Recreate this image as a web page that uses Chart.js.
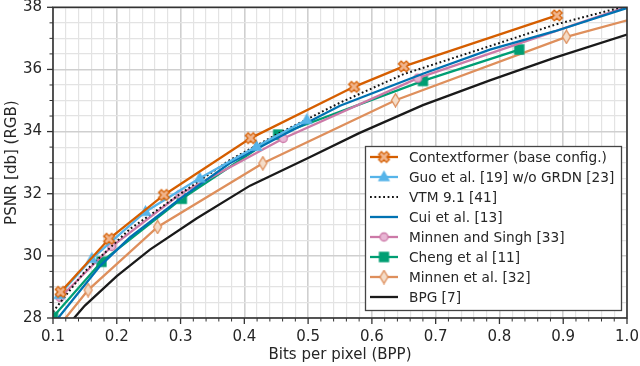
<!DOCTYPE html>
<html>
<head>
<meta charset="utf-8">
<script src="https://cdn.jsdelivr.net/npm/chart.js@4"></script>
<style>
  html, body { margin: 0; padding: 0; background: #fff; }
  #wrap { width: 640px; height: 366px; position: relative; }
</style>
</head>
<body>
<div id="wrap"><canvas id="rdChart"></canvas></div>
<script>
// rate-distortion points: bits per pixel / PSNR (dB)
const ctxformerBpp  = [0.112, 0.188, 0.274, 0.410, 0.572, 0.650, 0.890];
const ctxformerPsnr = [28.84, 30.55, 31.96, 33.79, 35.44, 36.10, 37.74];

const guoBpp  = [0.110, 0.161, 0.245, 0.330, 0.419, 0.498];
const guoPsnr = [28.75, 29.91, 31.42, 32.50, 33.52, 34.38];

const vtmBpp  = [0.100, 0.106, 0.150, 0.221, 0.300, 0.377, 0.450, 0.550, 0.650, 0.785, 0.887, 1.000];
const vtmPsnr = [28.20, 28.36, 29.50, 30.87, 32.00, 33.08, 33.90, 34.93, 35.85, 36.75, 37.44, 38.05];

const cuiBpp  = [0.100, 0.108, 0.174, 0.221, 0.300, 0.377, 0.450, 0.550, 0.680, 0.785, 0.887, 1.000];
const cuiPsnr = [27.80, 28.00, 29.68, 30.60, 31.85, 32.98, 33.78, 34.83, 35.86, 36.64, 37.23, 37.98];

const minnenSinghBpp  = [0.111, 0.192, 0.299, 0.461, 0.672, 1.050];
const minnenSinghPsnr = [28.66, 30.30, 31.98, 33.78, 35.72, 38.37];

const chengBpp  = [0.100, 0.176, 0.302, 0.453, 0.680, 0.831];
const chengPsnr = [28.03, 29.81, 31.84, 33.90, 35.63, 36.64];

const minnenBpp  = [0.100, 0.155, 0.264, 0.429, 0.637, 0.905, 1.100];
const minnenPsnr = [27.50, 28.90, 30.93, 32.98, 35.01, 37.05, 38.14];

const bpgBpp  = [0.100, 0.131, 0.150, 0.200, 0.252, 0.325, 0.409, 0.500, 0.580, 0.680, 0.785, 0.887, 1.000];
const bpgPsnr = [27.25, 27.95, 28.40, 29.35, 30.20, 31.20, 32.26, 33.15, 33.95, 34.85, 35.65, 36.38, 37.12];

const xTicks = [0.1, 0.2, 0.3, 0.4, 0.5, 0.6, 0.7, 0.8, 0.9, 1.0];
const yTicks = [28, 30, 32, 34, 36, 38];

const seriesLabels = [
    'Contextformer (base config.)',
    'Guo et al. [19] w/o GRDN [23]',
    'VTM 9.1 [41]',
    'Cui et al. [13]',
    'Minnen and Singh [33]',
    'Cheng et al [11]',
    'Minnen et al. [32]',
    'BPG [7]'
];

const zip = (xs, ys) => xs.map((x, i) => ({x: x, y: ys[i]}));

// small canvases used as point markers (matplotlib-like shapes)
function makeMarker(kind, fill, stroke) {
    const c = document.createElement('canvas');
    const s = 15;
    c.width = s; c.height = s;
    const g = c.getContext('2d');
    const m = s / 2;
    g.fillStyle = fill;
    g.strokeStyle = stroke;
    g.lineWidth = 1.3;
    g.beginPath();
    if (kind === 'x') {
        const r = 5.6, w = 2.0;
        const arm = [];
        for (let k = 0; k < 4; k++) {
            const a = Math.PI / 4 + k * Math.PI / 2;
            const ca = Math.cos(a), sa = Math.sin(a);
            arm.push([[m + ca * r + sa * w, m + sa * r - ca * w],
                      [m + ca * r - sa * w, m + sa * r + ca * w]]);
        }
        g.moveTo(arm[0][0][0], arm[0][0][1]);
        for (let k = 0; k < 4; k++) {
            g.lineTo(arm[k][0][0], arm[k][0][1]);
            g.lineTo(arm[k][1][0], arm[k][1][1]);
            const ang = Math.PI / 4 + k * Math.PI / 2 + Math.PI / 4;
            g.lineTo(m + Math.cos(ang) * w * 1.41, m + Math.sin(ang) * w * 1.41);
        }
        g.closePath();
    } else if (kind === 'thinDiamond') {
        g.moveTo(m, m - 6.6);
        g.lineTo(m + 4, m);
        g.lineTo(m, m + 6.6);
        g.lineTo(m - 4, m);
        g.closePath();
    } else if (kind === 'circle') {
        g.arc(m, m, 4, 0, Math.PI * 2);
    } else if (kind === 'square') {
        g.rect(m - 4.5, m - 4.5, 9, 9);
    } else if (kind === 'triangle') {
        g.moveTo(m, m - 5.4);
        g.lineTo(m + 5, m + 3.6);
        g.lineTo(m - 5, m + 3.6);
        g.closePath();
    }
    g.fill();
    g.stroke();
    return c;
}

const markers = {
    ctx: makeMarker('x', '#f0b48c', '#d55e00'),
    guo: makeMarker('triangle', '#56b4e9', '#56b4e9'),
    ms: makeMarker('circle', '#e8b6d4', '#cc79a7'),
    cheng: makeMarker('square', '#009e73', '#009e73'),
    minnen: makeMarker('thinDiamond', '#f4dcc8', '#de8f5c')
};

function series(label, bpp, psnr, color, opts) {
    return Object.assign({
        label: label,
        data: zip(bpp, psnr),
        showLine: true,
        borderColor: color,
        backgroundColor: color,
        borderWidth: 2.3,
        pointRadius: 0,
        tension: 0
    }, opts || {});
}

const datasets = [
    series(seriesLabels[0], ctxformerBpp, ctxformerPsnr, '#d55e00', {pointRadius: 5, pointStyle: markers.ctx}),
    series(seriesLabels[1], guoBpp, guoPsnr, '#56b4e9', {pointRadius: 5, pointStyle: markers.guo}),
    series(seriesLabels[2], vtmBpp, vtmPsnr, '#111111', {borderDash: [1.8, 2.6], borderWidth: 2}),
    series(seriesLabels[3], cuiBpp, cuiPsnr, '#0072b2'),
    series(seriesLabels[4], minnenSinghBpp, minnenSinghPsnr, '#cc79a7', {pointRadius: 5, pointStyle: markers.ms}),
    series(seriesLabels[5], chengBpp, chengPsnr, '#009e73', {pointRadius: 5, pointStyle: markers.cheng}),
    series(seriesLabels[6], minnenBpp, minnenPsnr, '#de8f5c', {pointRadius: 5, pointStyle: markers.minnen}),
    series(seriesLabels[7], bpgBpp, bpgPsnr, '#1a1a1a')
];

const isMajor = (v, list) => list.some(t => Math.abs(t - v) < 1e-6);

// spines, outward tick marks and the boxed legend inside the axes
const axesDecor = {
    id: 'axesDecor',
    afterDraw(chart) {
        const {ctx, chartArea: a, scales} = chart;
        ctx.save();
        ctx.strokeStyle = '#333';
        scales.x.ticks.forEach(t => {
            const px = scales.x.getPixelForValue(t.value);
            const major = isMajor(t.value, xTicks);
            ctx.lineWidth = major ? 1.3 : 1;
            ctx.beginPath();
            ctx.moveTo(px, a.bottom);
            ctx.lineTo(px, a.bottom + (major ? 6 : 3.5));
            ctx.stroke();
        });
        scales.y.ticks.forEach(t => {
            const py = scales.y.getPixelForValue(t.value);
            const major = isMajor(t.value, yTicks);
            ctx.lineWidth = major ? 1.3 : 1;
            ctx.beginPath();
            ctx.moveTo(a.left, py);
            ctx.lineTo(a.left - (major ? 6 : 3.5), py);
            ctx.stroke();
        });
        ctx.lineWidth = 1.6;
        ctx.strokeRect(a.left, a.top, a.right - a.left, a.bottom - a.top);

        // legend
        const bx = 365.5, by = 146.5, bw = 256, bh = 164;
        ctx.fillStyle = '#fff';
        ctx.fillRect(bx, by, bw, bh);
        ctx.strokeStyle = '#444';
        ctx.lineWidth = 1.3;
        ctx.strokeRect(bx, by, bw, bh);
        ctx.font = '13.7px "DejaVu Sans"';
        ctx.textBaseline = 'middle';
        chart.data.datasets.forEach((ds, i) => {
            const cy = 157 + i * 20;
            ctx.save();
            ctx.strokeStyle = ds.borderColor;
            ctx.lineWidth = ds.borderWidth;
            ctx.setLineDash(ds.borderDash || []);
            ctx.beginPath();
            ctx.moveTo(370, cy);
            ctx.lineTo(398, cy);
            ctx.stroke();
            ctx.restore();
            if (ds.pointRadius > 0 && ds.pointStyle) {
                const c = ds.pointStyle;
                ctx.drawImage(c, 384 - c.width / 2, cy - c.height / 2);
            }
            ctx.fillStyle = '#262626';
            ctx.fillText(ds.label, 409, cy + 1);
        });
        ctx.restore();
    }
};

Chart.defaults.font.family = '"DejaVu Sans", sans-serif';
Chart.defaults.font.size = 15;
Chart.defaults.color = '#262626';

new Chart(document.getElementById('rdChart'), {
    type: 'scatter',
    data: {datasets: datasets},
    options: {
        responsive: true,
        maintainAspectRatio: false,
        animation: false,
        layout: {padding: {top: 6, right: 13, left: 0, bottom: 0}},
        plugins: {
            legend: {display: false},
            tooltip: {enabled: false}
        },
        scales: {
            x: {
                type: 'linear',
                min: 0.1,
                max: 1.0,
                afterFit: s => { s.height = 48; s.paddingLeft = 0; s.paddingRight = 0; },
                afterBuildTicks: s => {
                    const t = [];
                    for (let i = 0; i <= 45; i++) t.push({value: +(0.1 + i * 0.02).toFixed(2)});
                    s.ticks = t;
                },
                ticks: {
                    autoSkip: false,
                    maxRotation: 0,
                    padding: 10,
                    callback: v => isMajor(v, xTicks) ? v.toFixed(1) : ''
                },
                grid: {
                    drawTicks: false,
                    color: c => c.tick && isMajor(c.tick.value, xTicks) ? '#cfcfcf' : '#e3e3e3',
                    lineWidth: c => c.tick && isMajor(c.tick.value, xTicks) ? 1.6 : 1.2
                },
                border: {display: false},
                title: {display: true, text: 'Bits per pixel (BPP)', padding: {top: 2, bottom: 2}}
            },
            y: {
                type: 'linear',
                min: 28,
                max: 38,
                afterFit: s => { s.width = 53; s.paddingTop = 0; s.paddingBottom = 0; },
                afterBuildTicks: s => {
                    const t = [];
                    for (let i = 0; i <= 20; i++) t.push({value: 28 + i * 0.5});
                    s.ticks = t;
                },
                ticks: {
                    autoSkip: false,
                    padding: 11,
                    callback: v => isMajor(v, yTicks) ? String(v) : ''
                },
                grid: {
                    drawTicks: false,
                    color: c => c.tick && isMajor(c.tick.value, yTicks) ? '#cfcfcf' : '#e3e3e3',
                    lineWidth: c => c.tick && isMajor(c.tick.value, yTicks) ? 1.6 : 1.2
                },
                border: {display: false},
                title: {display: true, text: 'PSNR [db] (RGB)', padding: {top: 3, bottom: 0}}
            }
        }
    },
    plugins: [axesDecor]
});
</script>
</body>
</html>
